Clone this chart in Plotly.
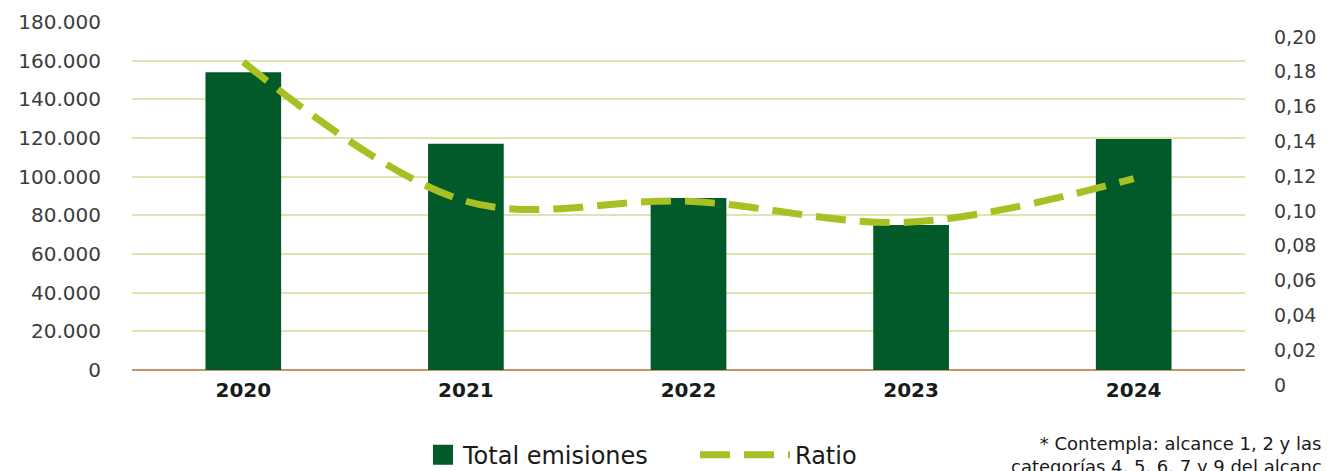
import plotly.graph_objects as go

years = ["2020", "2021", "2022", "2023", "2024"]
total_emisiones = [154000, 117000, 89000, 75000, 119500]
ratio = [0.177, 0.097, 0.097, 0.085, 0.110]

left_ticks = [0, 20000, 40000, 60000, 80000, 100000, 120000, 140000, 160000, 180000]
left_labels = ["0", "20.000", "40.000", "60.000", "80.000", "100.000", "120.000", "140.000", "160.000", "180.000"]
right_ticks = [0, 0.02, 0.04, 0.06, 0.08, 0.10, 0.12, 0.14, 0.16, 0.18, 0.20]
right_labels = ["0", "0,02", "0,04", "0,06", "0,08", "0,10", "0,12", "0,14", "0,16", "0,18", "0,20"]

BAR = "#02592a"
LINE = "#a8c023"
GRID = "#dbe5ad"
FONT = "DejaVu Sans"

fig = go.Figure()
fig.add_trace(go.Bar(x=years, y=total_emisiones, name="Total emisiones",
                     marker=dict(color=BAR, line=dict(width=0)), showlegend=False))
fig.add_trace(go.Scatter(x=[None], y=[None], mode="markers", name="Total emisiones",
                         legend="legend",
                         marker=dict(symbol="square", size=16, color=BAR,
                                     line=dict(color=BAR, width=4))))
fig.add_trace(go.Scatter(x=years, y=ratio, name="Ratio", yaxis="y2", mode="lines",
                         legend="legend2",
                         line=dict(color=LINE, width=7, dash="30px,14px", shape="spline", smoothing=1.0)))

legend_font = dict(family=FONT, size=24, color="#1a1a1a")

fig.update_layout(
    width=1321, height=463,
    margin=dict(l=124, r=84, t=14, b=101, autoexpand=False),
    plot_bgcolor="white", paper_bgcolor="white",
    bargap=0.66,
    font=dict(family=FONT, color="#3c3c3c", size=20),
    xaxis=dict(showgrid=False, showline=False, ticks="", zeroline=False, automargin=False,
               ticklabelstandoff=6,
               tickfont=dict(family=FONT, size=20, color="#1a1a1a", weight="bold")),
    yaxis=dict(range=[0, 180000], tickvals=left_ticks, ticktext=left_labels, automargin=False,
               showgrid=True, gridcolor=GRID, gridwidth=2,
               zeroline=True, zerolinecolor="#c4946a", zerolinewidth=2,
               showline=False, ticks="", ticklabelstandoff=30,
               tickfont=dict(family=FONT, size=20, color="#3c3c3c")),
    yaxis2=dict(range=[0, 0.2], overlaying="y", side="right", tickvals=right_ticks, ticktext=right_labels,
                showgrid=False, zeroline=False, showline=False, ticks="", automargin=False,
                ticklabelshift=15, ticklabelstandoff=28,
                tickfont=dict(family=FONT, size=19, color="#3c3c3c")),
    legend=dict(orientation="h", x=(423 - 132) / 1113, xanchor="left", y=-0.245, yanchor="middle",
                font=legend_font, itemwidth=30, bgcolor="rgba(0,0,0,0)"),
    legend2=dict(orientation="h", x=(695 - 132) / 1113, xanchor="left", y=-0.245, yanchor="middle",
                 font=legend_font, itemwidth=90, bgcolor="rgba(0,0,0,0)"),
    annotations=[dict(text="* Contempla: alcance 1, 2 y las<br>categorías 4, 5, 6, 7 y 9 del alcance 3",
                      xref="paper", yref="paper", x=(1180 - 132) / 1113, y=(370 - 431) / 348,
                      xanchor="center", yanchor="top", showarrow=False, align="center",
                      font=dict(family=FONT, size=18, color="#1a1a1a"))],
)

fig.write_html("out.html")
